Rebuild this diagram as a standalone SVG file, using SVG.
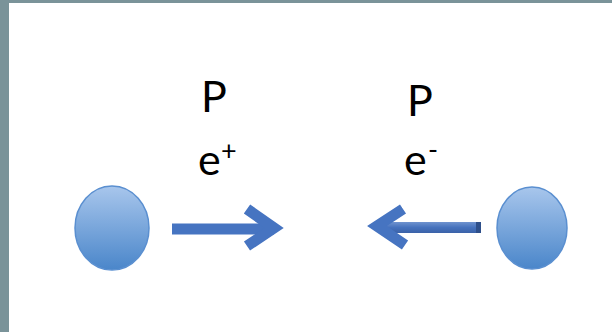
<svg xmlns="http://www.w3.org/2000/svg" width="612" height="332" viewBox="0 0 612 332">
<style>
.lbl{font-family:Lato,"Open Sans","Liberation Sans",sans-serif;font-size:43px;fill:#000}
.sup{font-family:Lato,"Open Sans","Liberation Sans",sans-serif;font-size:27px;fill:#000}
.arr{fill:none;stroke:#4674c1;stroke-width:11;stroke-linecap:butt;stroke-linejoin:miter}
.ball{fill:url(#g);stroke:#5a8fd0;stroke-width:1.5}
</style>
<defs>
<linearGradient id="g" x1="0" y1="0" x2="0" y2="1">
<stop offset="0" stop-color="#a8c6ec"/>
<stop offset="1" stop-color="#4a86ca"/>
</linearGradient>
<linearGradient id="sh" x1="0" y1="0" x2="0" y2="1">
<stop offset="0" stop-color="#6f93cf"/>
<stop offset="0.5" stop-color="#4672bd"/>
<stop offset="1" stop-color="#3b62a8"/>
</linearGradient>
</defs>
<rect x="0" y="0" width="612" height="332" fill="#fff"/>
<rect x="0" y="0" width="612" height="3" fill="#7a9399"/>
<rect x="0" y="0" width="9" height="332" fill="#7a9399"/>
<g id="particle-left"><ellipse class="ball" cx="112" cy="228" rx="37" ry="42"/></g>
<g id="particle-right"><ellipse class="ball" cx="532" cy="228" rx="35" ry="41"/></g>
<g id="connectors">
<g id="arrow-right">
<line class="arr" x1="172" y1="229" x2="274" y2="229"/>
<polyline class="arr" points="247,209 274,228 247,246"/>
</g>
<g id="arrow-left">
<rect x="385" y="222" width="96" height="11" fill="url(#sh)"/>
<rect x="476" y="222" width="5" height="11" fill="#2e4f8a"/>
<polyline class="arr" points="403,209 377,226 405,245"/>
<rect x="402" y="186" width="40" height="22" fill="#fff"/>
</g>
</g>
<g id="labels">
<text class="lbl" x="201" y="112">P</text>
<text class="lbl" x="198" y="175">e</text>
<text class="sup" x="221" y="160">+</text>
<text class="lbl" x="407" y="116">P</text>
<text class="lbl" x="404" y="175">e</text>
<text class="sup" x="428" y="159">-</text>
</g>
</svg>
